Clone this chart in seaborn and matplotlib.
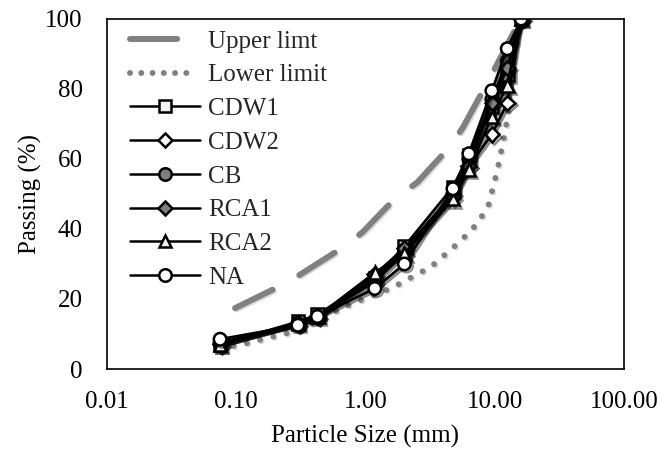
import matplotlib
matplotlib.use("Agg")
import matplotlib.pyplot as plt
import matplotlib.patheffects as pe
from matplotlib.lines import Line2D
import seaborn as sns

sizes = [0.075, 0.3, 0.425, 1.18, 2.0, 4.75, 6.3, 9.5, 12.5, 16]
cdw1 = [7, 13.5, 15.5, 26, 35, 52, 61, 75, 84, 100]
cdw2 = [7, 13, 15, 25, 33, 50, 58, 67, 76, 100]
cb = [7.5, 13, 15, 26, 34, 50, 60, 77, 88, 100]
rca1 = [7, 13, 15, 27, 34.5, 49, 58, 76, 86, 100]
rca2 = [7, 13, 15, 27.5, 33, 48.5, 57, 72, 81, 100]
na = [8.5, 12.5, 15, 23, 30, 51.5, 61.5, 79.5, 91.5, 100]

upper_x = [0.098, 0.21, 0.31, 0.66, 0.95, 1.65, 2.53, 4.39, 5.65, 8.83, 11.1, 13.5, 16]
upper_y = [17.4, 23.4, 26.9, 34.6, 39.1, 48.3, 53.4, 63.1, 68.9, 82, 89, 95, 100]
lower_x = [0.075, 0.107, 0.3, 0.68, 1.65, 2.6, 3.19, 4.64, 6.64, 8.83, 10.5, 12.2, 14, 16]
lower_y = [6, 6.9, 11, 17.7, 23.4, 27.4, 29.1, 34.3, 39.7, 46, 57, 69, 88, 100]

series = [
    ("CDW1", cdw1, "s", "#f2f2f2"),
    ("CDW2", cdw2, "D", "white"),
    ("CB", cb, "o", "#7f7f7f"),
    ("RCA1", rca1, "D", "#7f7f7f"),
    ("RCA2", rca2, "^", "#f2f2f2"),
    ("NA", na, "o", "white"),
]
xticks = [0.01, 0.1, 1, 10, 100]
xtick_labels = ["0.01", "0.10", "1.00", "10.00", "100.00"]
yticks = [0, 20, 40, 60, 80, 100]

sns.set_style("white")
plt.rcParams["font.family"] = ["Liberation Serif", "DejaVu Serif"]
plt.rcParams["lines.scale_dashes"] = False

FS = 18
LW_LIM = 4.3
GRAY = "#808080"

fig = plt.figure(figsize=(6.62, 4.5), dpi=100)
ax = fig.add_axes([0.1616, 0.18, 0.781, 0.7778])

shadow = [pe.SimpleLineShadow(offset=(1.5, -1.5), shadow_color="k", alpha=0.45), pe.Normal()]
soft = [pe.SimpleLineShadow(offset=(1, -1), shadow_color="k", alpha=0.15), pe.Normal()]

# dash patterns in points (no scaling); 1 px = 0.72 pt
UP_DASH = [30.0, 22.0]
LO_DOT = [0.01, 9.8]

sns.lineplot(x=upper_x, y=upper_y, ax=ax, color=GRAY, linewidth=LW_LIM,
             sort=False, estimator=None)
lu = ax.lines[-1]
lu.set_dashes(UP_DASH)
lu.set_dash_capstyle("round")
lu.set_path_effects(soft)

sns.lineplot(x=lower_x, y=lower_y, ax=ax, color=GRAY, linewidth=LW_LIM,
             sort=False, estimator=None)
ll = ax.lines[-1]
ll.set_dashes(LO_DOT)
ll.set_dash_capstyle("round")
ll.set_path_effects(soft)

legend_dots = [0.01, 8.1] * 5 + [0.01, 40.0]
handles = [
    Line2D([], [], color=GRAY, linewidth=LW_LIM, dashes=[34.0, 30.0], dash_capstyle="round"),
    Line2D([], [], color=GRAY, linewidth=LW_LIM, dashes=legend_dots, dash_capstyle="round"),
]
labels = ["Upper limt", "Lower limit"]

for name, vals, mk, fc in series:
    ms = 9 if mk != "D" else 7.5
    sns.lineplot(x=sizes, y=vals, ax=ax, color="black", linewidth=2.0,
                 marker=mk, markersize=ms,
                 markerfacecolor=fc, markeredgecolor="black", markeredgewidth=1.8,
                 sort=False, estimator=None)
    ln = ax.lines[-1]
    ln.set_path_effects(shadow)
    handles.append(Line2D([], [], color="black", linewidth=1.8, marker=mk,
                          markersize=ms, markerfacecolor=fc,
                          markeredgecolor="black", markeredgewidth=1.8))
    labels.append(name)

ax.set_xscale("log")
ax.set_xlim(0.01, 100)
ax.set_ylim(0, 100)
ax.set_xticks(xticks)
ax.set_xticklabels(xtick_labels)
ax.xaxis.set_minor_locator(matplotlib.ticker.NullLocator())
ax.set_yticks(yticks)
ax.tick_params(axis="both", direction="out", length=4.5, width=1, color="black",
               labelsize=FS, labelcolor="black")
ax.tick_params(axis="x", pad=11)
ax.tick_params(axis="y", pad=13)
for s in ax.spines.values():
    s.set_visible(True)
    s.set_color("black")
    s.set_linewidth(1.2)

ax.set_xlabel("Particle Size (mm)", fontsize=FS, color="black", labelpad=9)
ax.set_ylabel("Passing (%)", fontsize=FS, color="black", labelpad=2)

leg = ax.legend(handles, labels, loc="upper left", bbox_to_anchor=(0.044, 0.968),
                frameon=False, fontsize=FS,
                handlelength=2.8, handletextpad=0.32, labelspacing=0.45,
                borderaxespad=0.0, borderpad=0.0)

fig.savefig("out.png", dpi=100)
